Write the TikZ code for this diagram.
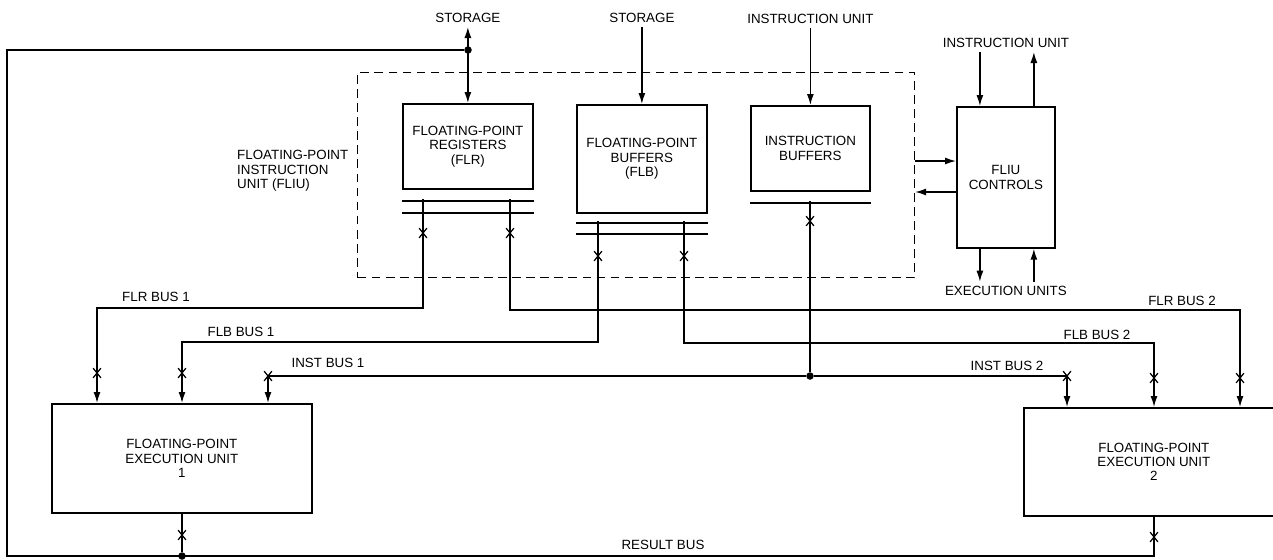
\documentclass[tikz,border=0pt]{standalone}
\usepackage{fontspec}
\setmainfont{Liberation Sans}
\usetikzlibrary{positioning,arrows.meta,shapes.misc}

\begin{document}
\begin{tikzpicture}[x=0.02cm, y=-0.02cm,
    every node/.style={font=\fontsize{7.6}{8.2}\selectfont},
    unit/.style={draw, line width=1pt, align=center, inner sep=0pt, anchor=north west},
    lbl/.style={inner sep=2.5pt},
    bus/.style={line width=0.8pt},
    arr/.style={bus, -{Latex[length=2.2mm,width=1.4mm]}},
    both/.style={bus, {Latex[length=2.2mm,width=1.4mm]}-{Latex[length=2.2mm,width=1.4mm]}},
    bar/.style={line width=1.4pt},
    tap/.style={cross out, draw, line width=0.7pt, minimum width=0.13cm, minimum height=0.17cm, inner sep=0pt},
    dot/.style={circle, fill, inner sep=0pt, minimum size=0.15cm}]

    \useasboundingbox (0,0) rectangle (1273,559);
    \clip (0,0) rectangle (1273,559);

    \node [draw, dash pattern=on 5pt off 3pt, line width=0.7pt, minimum width=11.14cm, minimum height=4.1cm, inner sep=0pt, anchor=north west] (fliu) at (357,72) {};
    \node [lbl, align=left, anchor=east] (fliulbl) at (353,171) {FLOATING-POINT\\INSTRUCTION\\UNIT (FLIU)};

    \node [unit, minimum width=2.6cm, minimum height=1.7cm] (flr) at (402,103) {FLOATING-POINT\\REGISTERS\\(FLR)};
    \node [unit, minimum width=2.6cm, minimum height=2.16cm] (flb) at (576,104) {FLOATING-POINT\\BUFFERS\\(FLB)};
    \node [unit, minimum width=2.38cm, minimum height=1.7cm] (ib) at (750,105) {INSTRUCTION\\BUFFERS};
    \node [unit, minimum width=1.96cm, minimum height=2.82cm] (ctl) at (956,106) {FLIU\\CONTROLS};
    \node [unit, minimum width=5.2cm, minimum height=2.18cm] (eu1) at (51,403) {FLOATING-POINT\\EXECUTION UNIT\\1};
    \node [unit, minimum width=5.2cm, minimum height=2.16cm] (eu2) at (1023,407) {FLOATING-POINT\\EXECUTION UNIT\\2};

    \node [lbl, above=1.52cm of flr] (st1) {STORAGE};
    \node [lbl, above=1.54cm of flb] (st2) {STORAGE};
    \node [lbl, above=1.54cm of ib] (iu) {INSTRUCTION UNIT};
    \node [lbl, above=1.08cm of ctl] (iu2) {INSTRUCTION UNIT};
    \node [lbl, below=0.66cm of ctl] (exu) {EXECUTION UNITS};

    \node [lbl] (flr1lbl) at (156,297) {FLR BUS 1};
    \node [lbl] (flb1lbl) at (241,332) {FLB BUS 1};
    \node [lbl] (ins1lbl) at (328,363) {INST BUS 1};
    \node [lbl] (flr2lbl) at (1182,301) {FLR BUS 2};
    \node [lbl] (flb2lbl) at (1097,335) {FLB BUS 2};
    \node [lbl] (ins2lbl) at (1007,366) {INST BUS 2};
    \node [lbl] (reslbl) at (663,545) {RESULT BUS};

    \coordinate (flrbar) at ([yshift=-0.22cm]flr.south);
    \coordinate (flrbar2) at ([yshift=-0.46cm]flr.south);
    \coordinate (flbbar) at ([yshift=-0.18cm]flb.south);
    \coordinate (flbbar2) at ([yshift=-0.4cm]flb.south);
    \coordinate (ibbar) at ([yshift=-0.22cm]ib.south);
    \draw [bar] (flrbar -| flr.west) -- (flrbar -| flr.east);
    \draw [bar] (flrbar2 -| flr.west) -- (flrbar2 -| flr.east);
    \draw [bar] (flbbar -| flb.west) -- (flbbar -| flb.east);
    \draw [bar] (flbbar2 -| flb.west) -- (flbbar2 -| flb.east);
    \draw [bar] (ibbar -| ib.west) -- (ibbar -| ib.east);

    \coordinate (flrL) at (423,199);
    \coordinate (flrR) at (510,199);
    \coordinate (flbL) at (598,221);
    \coordinate (flbR) at (684,221);
    \coordinate (ibT) at (810,201);
    \coordinate (flr1) at (97,308);
    \coordinate (flb1) at (182,342);
    \coordinate (ins1) at (268,376);
    \coordinate (flr2) at (1240,310);
    \coordinate (flb2) at (1154,343);
    \coordinate (ins2) at (1067,376);
    \coordinate (resR) at (1154,556);
    \coordinate (resL) at (7,556);
    \coordinate (stL) at (7,50);
    \coordinate (ctlin) at ([xshift=-0.52cm]ctl.north);
    \coordinate (ctlout) at ([xshift=0.56cm]ctl.north);

    \node [dot] (insj) at (810,376) {};
    \node [dot] (resj) at (182,556) {};
    \node [dot] (stj) at (468,50) {};

    \draw [both] (st1) -- (st1 |- flr.north);
    \draw [arr] (st2) -- (st2 |- flb.north);
    \draw [arr] (iu) -- (iu |- ib.north);
    \draw [arr] (iu2.south -| ctlin) -- (ctlin);
    \draw [arr] (ctlout) -- (iu2.south -| ctlout);
    \draw [arr] (ctl.south -| ctlin) -- (exu.north -| ctlin);
    \draw [arr] (exu.north -| ctlout) -- (ctl.south -| ctlout);
    \draw [arr] (fliu.east |- 0,161) -- (ctl.west |- 0,161);
    \draw [arr] (ctl.west |- 0,192) -- (fliu.east |- 0,192);

    \draw [arr] (flrL) |- (flr1) -- (flr1 |- eu1.north);
    \draw [arr] (flrR) |- (flr2) -- (flr2 |- eu2.north);
    \draw [arr] (flbL) |- (flb1) -- (flb1 |- eu1.north);
    \draw [arr] (flbR) |- (flb2) -- (flb2 |- eu2.north);
    \draw [bus] (ibT) -- (insj);
    \draw [arr] (insj) -- (ins1) -- (ins1 |- eu1.north);
    \draw [arr] (insj) -- (ins2) -- (ins2 |- eu2.north);

    \draw [bus] (eu1.south -| resj) -- (resj);
    \draw [bus] (eu2.south -| resR) -- (resR) -- (resL) -- (stL) -- (stj);

    \node [tap] (flrLx) at (423,233) {};
    \node [tap] (flrRx) at (510,233) {};
    \node [tap] (flbLx) at (598,256) {};
    \node [tap] (flbRx) at (684,256) {};
    \node [tap] (ibx) at (810,221) {};
    \node [tap] (flr1x) at (97,373) {};
    \node [tap] (flb1x) at (182,373) {};
    \node [tap] (ins1x) at (ins1) {};
    \node [tap] (ins2x) at (ins2) {};
    \node [tap] (flb2x) at (1154,378) {};
    \node [tap] (flr2x) at (1240,378) {};
    \node [tap] (eu1x) at (182,535) {};
    \node [tap] (eu2x) at (1154,537) {};

\end{tikzpicture}
\end{document}
